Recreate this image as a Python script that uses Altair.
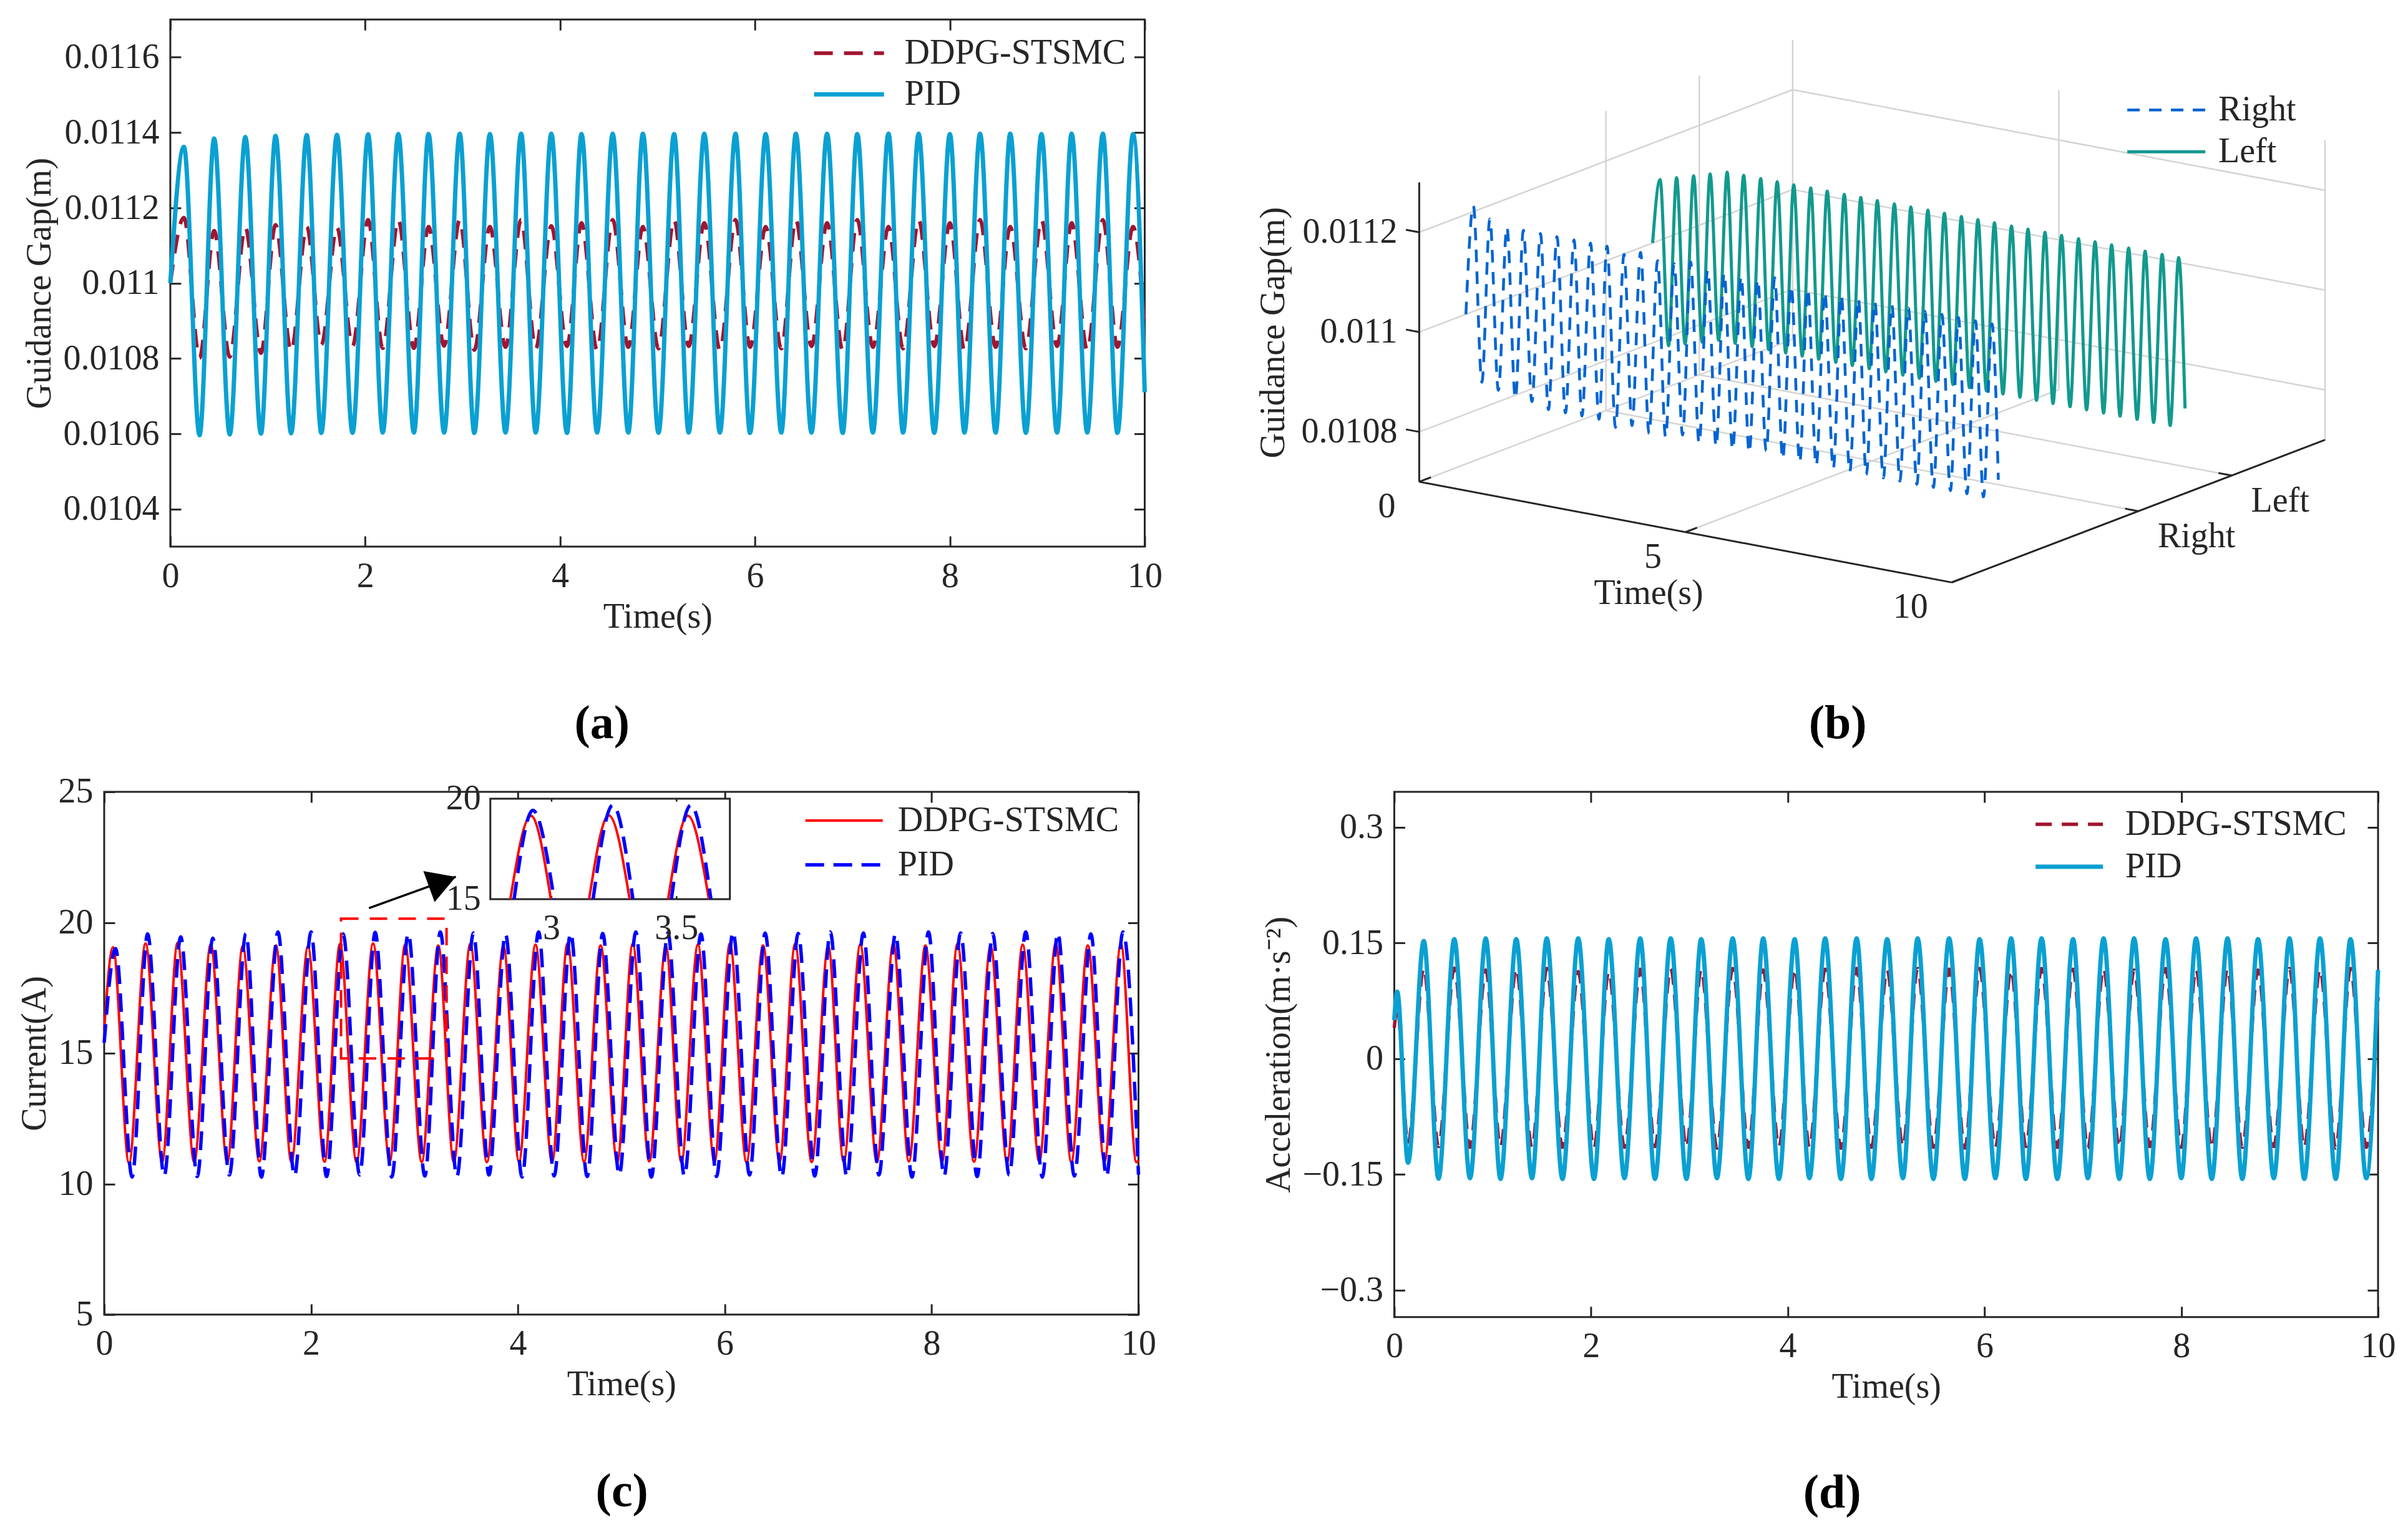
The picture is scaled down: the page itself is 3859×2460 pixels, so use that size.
import altair as alt
import pandas as pd

FONT = "Liberation Serif"
INK = "#262626"
FS = 56
TICK = 17
RED_DARK = "#A2142F"
CYAN = "#0AA0D2"
RED = "#FF0000"
BLUE = "#0000FF"
B_BLUE = "#0064D2"
TEAL = "#12998E"
GRID = "#D4D4D4"

# ======================= data =======================
captions = ["(a)", "(b)", "(c)", "(d)"]
ctrl_names = ["DDPG-STSMC", "PID"]
side_names = ["Right", "Left"]

# ---- (a) guidance gap, extrema times (s) ----
gap_peak_t = [0.14, 0.45, 0.77, 1.08, 1.40, 1.71, 2.03, 2.34, 2.65, 2.97, 3.28, 3.60, 3.91, 4.22, 4.54, 4.85,
              5.17, 5.48, 5.80, 6.11, 6.42, 6.74, 7.05, 7.37, 7.68, 8.00, 8.31, 8.62, 8.94, 9.25, 9.57, 9.88]
gap_trough_t = [0.30, 0.61, 0.93, 1.24, 1.55, 1.87, 2.18, 2.50, 2.81, 3.12, 3.44, 3.75, 4.07, 4.38, 4.70, 5.01,
                5.32, 5.64, 5.95, 6.27, 6.58, 6.90, 7.21, 7.52, 7.84, 8.15, 8.47, 8.78, 9.10, 9.41, 9.72]
gap_pid_start, gap_pid_end = 0.01100, 0.01071
gap_pid_peak = [0.011362, 0.011384, 0.011388, 0.011391, 0.011393, 0.011394, 0.011395, 0.011396, 0.011396, 0.011397,
                0.011396, 0.011397, 0.011397, 0.011396, 0.011397, 0.011397, 0.011396, 0.011397, 0.011397, 0.011396,
                0.011397, 0.011397, 0.011396, 0.011397, 0.011397, 0.011396, 0.011397, 0.011397, 0.011396, 0.011397,
                0.011397, 0.011396]
gap_pid_trough = [0.010596, 0.010598, 0.010600, 0.010601, 0.010602, 0.010602, 0.010603, 0.010603, 0.010603, 0.010602,
                  0.010603, 0.010603, 0.010602, 0.010603, 0.010603, 0.010602, 0.010603, 0.010603, 0.010602, 0.010603,
                  0.010603, 0.010602, 0.010603, 0.010603, 0.010602, 0.010603, 0.010603, 0.010602, 0.010603, 0.010603,
                  0.010602]
gap_dd_start, gap_dd_end = 0.01100, 0.01088
gap_dd_peak = [0.011174, 0.011139, 0.011148, 0.011155, 0.011150, 0.011148, 0.011168, 0.011168, 0.011150, 0.011168,
               0.011150, 0.011168, 0.011152, 0.011160, 0.011168, 0.011150, 0.011168, 0.011160, 0.011168, 0.011150,
               0.011168, 0.011160, 0.011168, 0.011150, 0.011168, 0.011160, 0.011168, 0.011150, 0.011168, 0.011160,
               0.011168, 0.011150]
gap_dd_trough = [0.010801, 0.010804, 0.010814, 0.010820, 0.010836, 0.010833, 0.010827, 0.010827, 0.010833, 0.010822,
                 0.010830, 0.010826, 0.010832, 0.010822, 0.010830, 0.010826, 0.010832, 0.010822, 0.010830, 0.010826,
                 0.010832, 0.010822, 0.010830, 0.010826, 0.010832, 0.010822, 0.010830, 0.010826, 0.010832, 0.010822,
                 0.010830]
gap_y_ticks = [0.0104, 0.0106, 0.0108, 0.011, 0.0112, 0.0114, 0.0116]

# ---- (b) 3-D guidance gap, right / left ----
b_right_start, b_right_end = 0.01100, 0.01087
b_right_peak = [0.01122, 0.01120, 0.01119, 0.01119, 0.01119, 0.01119, 0.01119, 0.01119, 0.01119, 0.01118,
                0.01119, 0.01118, 0.01118, 0.01119, 0.01118, 0.01118, 0.01118, 0.01118, 0.01119, 0.01118,
                0.01118, 0.01118, 0.01118, 0.01118, 0.01118, 0.01118, 0.01118, 0.01118, 0.01118, 0.01118,
                0.01118, 0.01118]
b_right_trough = [0.01087, 0.01086, 0.01085, 0.01085, 0.01084, 0.01084, 0.01084, 0.01084, 0.01083, 0.01084,
                  0.01083, 0.01083, 0.01084, 0.01083, 0.01083, 0.01083, 0.01083, 0.01084, 0.01083, 0.01083,
                  0.01083, 0.01083, 0.01083, 0.01083, 0.01083, 0.01083, 0.01083, 0.01083, 0.01083, 0.01083,
                  0.01083]
b_left_start, b_left_end = 0.01100, 0.01087
b_left_peak = [0.01113, 0.01114, 0.01115, 0.01116, 0.01117, 0.01117, 0.01117, 0.01117, 0.01117, 0.01117,
               0.01117, 0.01117, 0.01117, 0.01117, 0.01117, 0.01117, 0.01117, 0.01117, 0.01117, 0.01117,
               0.01117, 0.01117, 0.01117, 0.01117, 0.01117, 0.01117, 0.01117, 0.01117, 0.01117, 0.01117,
               0.01117, 0.01117]
b_left_trough = [0.01080, 0.01081, 0.01082, 0.01083, 0.01083, 0.01083, 0.01083, 0.01083, 0.01083, 0.01083,
                 0.01083, 0.01083, 0.01083, 0.01083, 0.01083, 0.01083, 0.01083, 0.01083, 0.01083, 0.01083,
                 0.01083, 0.01083, 0.01083, 0.01083, 0.01083, 0.01083, 0.01083, 0.01083, 0.01083, 0.01083,
                 0.01083]
b_side_pos = [-0.5, 1.5]            # Right, Left curve positions on side axis
b_t_ticks, b_t_labels = [0, 5, 10], ["0", "5", "10"]
b_s_ticks = [1, 2]
b_z_ticks, b_z_labels = [0.0108, 0.011, 0.0112], ["0.0108", "0.011", "0.0112"]
b_t_lim, b_s_lim, b_z_lim = [0, 10], [-1, 3], [0.0107, 0.0113]

# ---- (c) current ----
cur_dd_peak_t = [0.085, 0.40, 0.71, 1.03, 1.34, 1.66, 1.97, 2.28, 2.60, 2.91, 3.23, 3.54, 3.86, 4.17, 4.48, 4.80,
                 5.11, 5.43, 5.74, 6.05, 6.37, 6.68, 7.00, 7.31, 7.63, 7.94, 8.25, 8.57, 8.88, 9.20, 9.51, 9.83]
cur_dd_trough_t = [0.24, 0.56, 0.87, 1.19, 1.50, 1.81, 2.13, 2.44, 2.76, 3.07, 3.38, 3.70, 4.01, 4.33, 4.64, 4.96,
                   5.27, 5.58, 5.90, 6.21, 6.53, 6.84, 7.15, 7.47, 7.78, 8.10, 8.41, 8.73, 9.04, 9.35, 9.67, 9.98]
cur_dd_start, cur_dd_end = 15.9, 10.9
cur_dd_peak = [19.05, 19.20, 19.22, 19.15, 19.10, 19.12, 19.08, 19.18, 19.20, 19.15, 19.12, 19.18, 19.10, 19.15,
               19.20, 19.12, 19.18, 19.10, 19.15, 19.20, 19.12, 19.18, 19.10, 19.15, 19.20, 19.12, 19.18, 19.10,
               19.15, 19.20, 19.12, 19.18]
cur_dd_trough = [10.80, 10.84, 10.85, 10.83, 10.86, 10.84, 10.85, 10.83, 10.86, 10.84, 10.85, 10.83, 10.86, 10.84,
                 10.85, 10.83, 10.86, 10.84, 10.85, 10.83, 10.86, 10.84, 10.85, 10.83, 10.86, 10.84, 10.85, 10.83,
                 10.86, 10.84, 10.85, 10.83]
cur_pid_peak_t = [0.11, 0.42, 0.74, 1.05, 1.37, 1.68, 2.00, 2.31, 2.62, 2.94, 3.25, 3.57, 3.88, 4.20, 4.51, 4.82,
                  5.14, 5.45, 5.77, 6.08, 6.39, 6.71, 7.02, 7.34, 7.65, 7.97, 8.28, 8.59, 8.91, 9.22, 9.54, 9.85]
cur_pid_trough_t = [0.27, 0.58, 0.90, 1.21, 1.52, 1.84, 2.15, 2.47, 2.78, 3.10, 3.41, 3.72, 4.04, 4.35, 4.67, 4.98,
                    5.29, 5.61, 5.92, 6.24, 6.55, 6.87, 7.18, 7.49, 7.81, 8.12, 8.44, 8.75, 9.07, 9.38, 9.69]
cur_pid_start, cur_pid_end = 15.4, 10.35
cur_pid_peak = [19.00, 19.56, 19.45, 19.40, 19.58, 19.64, 19.64, 19.56, 19.62, 19.58, 19.64, 19.60, 19.56, 19.64,
                19.60, 19.58, 19.64, 19.60, 19.56, 19.64, 19.60, 19.58, 19.64, 19.60, 19.56, 19.64, 19.60, 19.58,
                19.64, 19.60, 19.56, 19.64]
cur_pid_trough = [10.26, 10.30, 10.28, 10.34, 10.26, 10.30, 10.28, 10.34, 10.26, 10.30, 10.28, 10.34, 10.26, 10.30,
                  10.28, 10.34, 10.26, 10.30, 10.28, 10.34, 10.26, 10.30, 10.28, 10.34, 10.26, 10.30, 10.28, 10.34,
                  10.26, 10.30, 10.28]
cur_y_ticks = [5, 10, 15, 20, 25]
# zoom box, arrow and inset
zoom_box_t, zoom_box_v = [2.29, 3.31], [14.8, 20.15]
arrow_t, arrow_v = [2.56, 3.40], [20.55, 21.75]
arrow_head_t, arrow_head_v = [3.27], [21.56]
inset_t_lim, inset_v_lim = [2.755, 3.713], [15, 20]
inset_dd_t = [2.835, 2.917, 2.997, 3.15, 3.229, 3.312, 3.466, 3.545, 3.629]
inset_dd_v = [15, 19.15, 15, 15, 19.17, 15, 15, 19.15, 15]
inset_pid_t = [2.85, 2.925, 3.01, 3.166, 3.245, 3.325, 3.479, 3.557, 3.637]
inset_pid_v = [15, 19.42, 15, 15, 19.68, 15, 15, 19.68, 15]
inset_arch = [0, 0, 0, 1, 1, 1, 2, 2, 2]
inset_x_ticks, inset_x_labels = [3, 3.5], ["3", "3.5"]
inset_y_ticks, inset_y_labels = [15, 20], ["15", "20"]

# ---- (d) acceleration ----
acc_peak_t = gap_trough_t
acc_trough_t = gap_peak_t
acc_pid_start, acc_pid_end = 0.05, 0.115
acc_pid_first = (0.03, 0.087)
acc_pid_peak = [0.1526, 0.155, 0.156, 0.155, 0.156, 0.156, 0.155, 0.156, 0.156, 0.155, 0.156, 0.156, 0.155, 0.156,
                0.156, 0.155, 0.156, 0.156, 0.155, 0.156, 0.156, 0.155, 0.156, 0.156, 0.155, 0.156, 0.156, 0.155,
                0.156, 0.156, 0.155]
acc_pid_trough = [-0.135, -0.1555, -0.155, -0.156, -0.155, -0.156, -0.156, -0.155, -0.156, -0.156, -0.155, -0.156,
                  -0.156, -0.155, -0.156, -0.156, -0.155, -0.156, -0.156, -0.155, -0.156, -0.156, -0.155, -0.156,
                  -0.156, -0.155, -0.156, -0.156, -0.155, -0.156, -0.156, -0.155]
acc_dd_start, acc_dd_end = 0.04, 0.08
acc_dd_first = (0.03, 0.066)
acc_dd_peak = [0.1175, 0.1175, 0.115, 0.117, 0.117, 0.113, 0.113, 0.116, 0.117, 0.116, 0.117, 0.115, 0.117, 0.116,
               0.117, 0.115, 0.117, 0.116, 0.117, 0.115, 0.117, 0.116, 0.117, 0.115, 0.117, 0.116, 0.117, 0.115,
               0.117, 0.116, 0.117]
acc_dd_trough = [-0.110, -0.114, -0.115, -0.114, -0.115, -0.115, -0.116, -0.115, -0.114, -0.115, -0.116, -0.115,
                 -0.114, -0.115, -0.116, -0.115, -0.114, -0.115, -0.116, -0.115, -0.114, -0.115, -0.116, -0.115,
                 -0.114, -0.115, -0.116, -0.115, -0.114, -0.115, -0.116, -0.115]
acc_y_ticks = [-0.3, -0.15, 0, 0.15, 0.3]
time_ticks = [0, 2, 4, 6, 8, 10]


# ======================= helpers =======================
def wave_df(t0, v0, pk_t, pk_v, tr_t, tr_v, t1, v1, extra=None):
    ts = [t0] + list(pk_t) + list(tr_t) + [t1]
    vs = [v0] + list(pk_v) + list(tr_v) + [v1]
    if extra is not None:
        ts.append(extra[0])
        vs.append(extra[1])
    return pd.DataFrame({"t": ts, "v": vs}).sort_values("t").reset_index(drop=True)


def ax_common():
    return dict(tickSize=TICK, offset=-TICK, domain=False, grid=False, tickColor=INK, tickWidth=3,
                labelFont=FONT, labelFontSize=FS, labelColor=INK, titleFont=FONT, titleFontSize=FS,
                titleFontWeight="normal", titleColor=INK, labelFlush=False, labelOverlap=False)


def axes(yvals, ytitle, yfmt):
    xb = alt.Axis(orient="bottom", values=time_ticks, title="Time(s)", format="d", labelPadding=20,
                  titlePadding=10, **ax_common())
    yl = alt.Axis(orient="left", values=yvals, title=ytitle, format=yfmt, labelPadding=18,
                  titlePadding=8, **ax_common())
    xt = alt.Axis(orient="top", values=time_ticks, labels=False, title=None, **ax_common())
    yr = alt.Axis(orient="right", values=yvals, labels=False, title=None, **ax_common())
    return xb, yl, xt, yr


def line(df, color, width, dash, xs, ys, xa=None, ya=None, opacity=1.0):
    kw = dict(color=color, strokeWidth=width, interpolate="monotone", opacity=opacity)
    if dash:
        kw["strokeDash"] = dash
    return alt.Chart(df).mark_line(**kw).encode(
        x=alt.X("t:Q", scale=xs, axis=xa), y=alt.Y("v:Q", scale=ys, axis=ya))


def legend_layers(names, colors, widths, dashes, x1, x2, xt, ys):
    out = []
    for name, c, w, d, y in zip(names, colors, widths, dashes, ys):
        one = pd.DataFrame({"label": [name]})
        kw = dict(color=c, strokeWidth=w)
        if d:
            kw["strokeDash"] = d
        out.append(alt.Chart(one).mark_rule(**kw).encode(x=alt.value(x1), x2=alt.value(x2), y=alt.value(y)))
        out.append(alt.Chart(one).mark_text(align="left", baseline="middle", font=FONT, fontSize=FS,
                                             color=INK).encode(x=alt.value(xt), y=alt.value(y), text="label:N"))
    return out


def caption_layer(text, x, y):
    return alt.Chart(pd.DataFrame({"c": [text]})).mark_text(
        font=FONT, fontSize=76, fontWeight="bold", color="black", align="center", baseline="middle"
    ).encode(x=alt.value(x), y=alt.value(y), text="c:N")


def spacer(w):
    return alt.Chart(pd.DataFrame({"k": [0]})).mark_point(opacity=0).encode(
        x=alt.value(0), y=alt.value(0)).properties(width=w, height=10, view=alt.ViewBackground(strokeOpacity=0))


def tscale():
    return alt.Scale(domain=[0, 10], nice=False, zero=False)


# ======================= panel (a) =======================
A_W, A_H = 1562, 845
xs_a, ys_a = tscale(), alt.Scale(domain=[0.0103, 0.0117], nice=False, zero=False)
a_dd = wave_df(0, gap_dd_start, gap_peak_t, gap_dd_peak, gap_trough_t, gap_dd_trough, 10, gap_dd_end)
a_pid = wave_df(0, gap_pid_start, gap_peak_t, gap_pid_peak, gap_trough_t, gap_pid_trough, 10, gap_pid_end)
xb, yl, xt, yr = axes(gap_y_ticks, "Guidance Gap(m)", ".4~f")
chart_a = alt.layer(
    line(a_dd, RED_DARK, 6, [30, 18], xs_a, ys_a, xb, yl),
    line(a_pid, CYAN, 7, None, xs_a, ys_a),
    line(a_pid, CYAN, 7, None, xs_a, ys_a, xt, yr, opacity=0),
    *legend_layers(ctrl_names, [RED_DARK, CYAN], [6, 7], [[30, 18], None], 1032, 1144, 1177, [54, 120]),
    caption_layer(captions[0], 692, 1129),
).resolve_axis(x="independent", y="independent").properties(width=A_W, height=A_H)

# ======================= panel (b) 3-D =======================
B_W, B_H = 1830, 1000
P_OX, P_OY = 270.0, 741.0
P_TX, P_TY = 85.35, 16.13
P_SX, P_SY = 149.65, -57.125
P_Z = 800000.0
S0, Z0 = b_s_lim[0], b_z_lim[0]
bxs = alt.Scale(domain=[0, B_W], nice=False, zero=False)
bys = alt.Scale(domain=[0, B_H], reverse=True, nice=False, zero=False)


def proj(sfx=""):
    t, s, z = f"datum.t{sfx}", f"datum.s{sfx}", f"datum.z{sfx}"
    X = f"{P_OX} + {P_TX}*{t} + {P_SX}*({s} - ({S0}))"
    Y = f"{P_OY} + {P_TY}*{t} + ({P_SY})*({s} - ({S0})) - {P_Z}*({z} - {Z0})"
    return X, Y


def seg_layer(segs, color, width):
    df = pd.DataFrame(segs, columns=["t1", "s1", "z1", "t2", "s2", "z2"])
    X1, Y1 = proj("1")
    X2, Y2 = proj("2")
    return alt.Chart(df).transform_calculate(X1=X1, Y1=Y1, X2=X2, Y2=Y2).mark_rule(
        color=color, strokeWidth=width).encode(
        x=alt.X("X1:Q", scale=bxs, axis=None), y=alt.Y("Y1:Q", scale=bys, axis=None), x2="X2:Q", y2="Y2:Q")


def pt_text(rows, dx, dy, align, angle=0):
    df = pd.DataFrame(rows, columns=["t", "s", "z", "label"])
    X, Y = proj()
    return alt.Chart(df).transform_calculate(X=X, Y=Y).mark_text(
        dx=dx, dy=dy, align=align, baseline="middle", font=FONT, fontSize=FS, color=INK, angle=angle).encode(
        x=alt.X("X:Q", scale=bxs, axis=None), y=alt.Y("Y:Q", scale=bys, axis=None), text="label:N")


def curve3d(t0, v0, pk_t, pk_v, tr_t, tr_v, t1, v1, side, color, width, dash):
    df = wave_df(t0, v0, pk_t, pk_v, tr_t, tr_v, t1, v1).rename(columns={"v": "z"})
    df["s"] = side
    X, Y = proj()
    kw = dict(color=color, strokeWidth=width, interpolate="monotone")
    if dash:
        kw["strokeDash"] = dash
    return alt.Chart(df).transform_calculate(X=X, Y=Y).mark_line(**kw).encode(
        x=alt.X("X:Q", scale=bxs, axis=None), y=alt.Y("Y:Q", scale=bys, axis=None), order="t:Q")


t_a, t_b = b_t_lim
s_a, s_b = b_s_lim
z_a, z_b = b_z_lim
grid_segs = []
for s in b_s_ticks:
    grid_segs.append((t_a, s, z_a, t_a, s, z_b))
    grid_segs.append((t_a, s, z_a, t_b, s, z_a))
for t in b_t_ticks:
    grid_segs.append((t, s_b, z_a, t, s_b, z_b))
    grid_segs.append((t, s_a, z_a, t, s_b, z_a))
for z in b_z_ticks:
    grid_segs.append((t_a, s_a, z, t_a, s_b, z))
    grid_segs.append((t_a, s_b, z, t_b, s_b, z))
axis_segs = [(t_a, s_a, z_a, t_a, s_a, z_b), (t_a, s_a, z_a, t_b, s_a, z_a), (t_b, s_a, z_a, t_b, s_b, z_a)]
tick_segs = ([(t, s_a, z_a, t, s_a + 0.125, z_a) for t in b_t_ticks] +
             [(t_b, s, z_a, t_b - 0.25, s, z_a) for s in b_s_ticks] +
             [(t_a, s_a, z, t_a - 0.25, s_a, z) for z in b_z_ticks])

chart_b = alt.layer(
    seg_layer(grid_segs, GRID, 2.5),
    seg_layer(axis_segs, INK, 3),
    seg_layer(tick_segs, INK, 3),
    curve3d(0, b_left_start, gap_peak_t, b_left_peak, gap_trough_t, b_left_trough, 10, b_left_end,
            b_side_pos[1], TEAL, 5, None),
    curve3d(0, b_right_start, gap_peak_t, b_right_peak, gap_trough_t, b_right_trough, 10, b_right_end,
            b_side_pos[0], B_BLUE, 4.5, [20, 15]),
    pt_text([(t, s_a, z_a, lab) for t, lab in zip(b_t_ticks, b_t_labels)], -38, 40, "right"),
    pt_text([(5, s_a, z_a, "Time(s)")], -59, 98, "center"),
    pt_text([(t_b, s, z_a, lab) for s, lab in zip(b_s_ticks, side_names)], 31, 41, "left"),
    pt_text([(t_a, s_a, z, lab) for z, lab in zip(b_z_ticks, b_z_labels)], -35, 0, "right"),
    alt.Chart(pd.DataFrame({"label": ["Guidance Gap(m)"]})).mark_text(
        font=FONT, fontSize=FS, color=INK, angle=270, align="center", baseline="middle").encode(
        x=alt.value(37), y=alt.value(502), text="label:N"),
    *legend_layers(side_names, [B_BLUE, TEAL], [4.5, 5], [[20, 15], None], 1405, 1530, 1551, [145, 212]),
    caption_layer(captions[1], 941, 1129),
).properties(width=B_W, height=B_H, view=alt.ViewBackground(strokeOpacity=0))

# ======================= panel (c) =======================
C_W, C_H = 1658, 838
xs_c, ys_c = tscale(), alt.Scale(domain=[5, 25], nice=False, zero=False)
c_dd = wave_df(0, cur_dd_start, cur_dd_peak_t, cur_dd_peak, cur_dd_trough_t, cur_dd_trough, 10, cur_dd_end)
c_pid = wave_df(0, cur_pid_start, cur_pid_peak_t, cur_pid_peak, cur_pid_trough_t, cur_pid_trough, 10, cur_pid_end)
xb, yl, xt, yr = axes(cur_y_ticks, "Current(A)", "d")
box_df = pd.DataFrame({"t": [zoom_box_t[0]], "t2": [zoom_box_t[1]], "v": [zoom_box_v[0]], "v2": [zoom_box_v[1]]})
arrow_df = pd.DataFrame({"t": [arrow_t[0]], "t2": [arrow_t[1]], "v": [arrow_v[0]], "v2": [arrow_v[1]]})
head_df = pd.DataFrame({"t": arrow_head_t, "v": arrow_head_v})
main_c = alt.layer(
    line(c_dd, RED, 4, None, xs_c, ys_c, xb, yl),
    line(c_pid, BLUE, 5.5, [30, 15], xs_c, ys_c),
    line(c_pid, BLUE, 5, None, xs_c, ys_c, xt, yr, opacity=0),
    alt.Chart(box_df).mark_rect(fillOpacity=0, stroke=RED, strokeWidth=4, strokeDash=[28, 18]).encode(
        x=alt.X("t:Q", scale=xs_c, axis=None), x2="t2:Q", y=alt.Y("v:Q", scale=ys_c, axis=None), y2="v2:Q"),
    alt.Chart(arrow_df).mark_rule(color="black", strokeWidth=3.5).encode(
        x=alt.X("t:Q", scale=xs_c, axis=None), x2="t2:Q", y=alt.Y("v:Q", scale=ys_c, axis=None), y2="v2:Q"),
    alt.Chart(head_df).mark_point(shape="triangle-right", filled=True, size=2800, angle=340, color="black",
                                  opacity=1).encode(
        x=alt.X("t:Q", scale=xs_c, axis=None), y=alt.Y("v:Q", scale=ys_c, axis=None)),
    *legend_layers(ctrl_names, [RED, BLUE], [4, 5.5], [None, [30, 15]], 1124, 1248, 1272, [46, 117]),
    caption_layer(captions[2], 830, 1122),
).resolve_axis(x="independent", y="independent")

ixs = alt.Scale(domain=inset_t_lim, range=[619, 1003], nice=False, zero=False)
iys = alt.Scale(domain=inset_v_lim, range=[172, 11], nice=False, zero=False)
ibox = pd.DataFrame({"t": [inset_t_lim[0]], "t2": [inset_t_lim[1]], "v": [inset_v_lim[0]], "v2": [inset_v_lim[1]]})
idd = pd.DataFrame({"t": inset_dd_t, "v": inset_dd_v, "arch": inset_arch})
ipid = pd.DataFrame({"t": inset_pid_t, "v": inset_pid_v, "arch": inset_arch})
iylab = pd.DataFrame({"t": [inset_t_lim[0]] * 2, "v": inset_y_ticks, "label": inset_y_labels})
ixlab = pd.DataFrame({"t": inset_x_ticks, "v": [inset_v_lim[0]] * 2, "label": inset_x_labels})
itick = pd.DataFrame({"t": inset_x_ticks * 2,
                      "v": [inset_v_lim[1]] * 2 + [inset_v_lim[0]] * 2,
                      "v2": [inset_v_lim[1] - 0.15] * 2 + [inset_v_lim[0] + 0.15] * 2})
inset_c = alt.layer(
    alt.Chart(ibox).mark_rect(fill="white", stroke=INK, strokeWidth=3).encode(
        x=alt.X("t:Q", scale=ixs, axis=None), x2="t2:Q", y=alt.Y("v:Q", scale=iys, axis=None), y2="v2:Q"),
    alt.Chart(itick).mark_rule(color=INK, strokeWidth=2.5).encode(
        x=alt.X("t:Q", scale=ixs, axis=None), y=alt.Y("v:Q", scale=iys, axis=None), y2="v2:Q"),
    alt.Chart(idd).mark_line(color=RED, strokeWidth=4, interpolate="monotone").encode(
        x=alt.X("t:Q", scale=ixs, axis=None), y=alt.Y("v:Q", scale=iys, axis=None), detail="arch:N"),
    alt.Chart(ipid).mark_line(color=BLUE, strokeWidth=5.5, strokeDash=[28, 14], interpolate="monotone").encode(
        x=alt.X("t:Q", scale=ixs, axis=None), y=alt.Y("v:Q", scale=iys, axis=None), detail="arch:N"),
    alt.Chart(iylab).mark_text(align="right", baseline="middle", dx=-15, font=FONT, fontSize=FS, color=INK).encode(
        x=alt.X("t:Q", scale=ixs, axis=None), y=alt.Y("v:Q", scale=iys, axis=None), text="label:N"),
    alt.Chart(ixlab).mark_text(align="center", baseline="middle", dy=47, font=FONT, fontSize=FS, color=INK).encode(
        x=alt.X("t:Q", scale=ixs, axis=None), y=alt.Y("v:Q", scale=iys, axis=None), text="label:N"),
)
chart_c = alt.layer(main_c, inset_c).resolve_scale(x="independent", y="independent").properties(
    width=C_W, height=C_H)

# ======================= panel (d) =======================
D_W, D_H = 1577, 842
xs_d, ys_d = tscale(), alt.Scale(domain=[-0.335, 0.346], nice=False, zero=False)
d_dd = wave_df(0, acc_dd_start, acc_peak_t, acc_dd_peak, acc_trough_t, acc_dd_trough, 10, acc_dd_end, acc_dd_first)
d_pid = wave_df(0, acc_pid_start, acc_peak_t, acc_pid_peak, acc_trough_t, acc_pid_trough, 10, acc_pid_end,
                acc_pid_first)
xb, yl, xt, yr = axes(acc_y_ticks, "Acceleration(m·s⁻²)", ".2~f")
chart_d = alt.layer(
    line(d_dd, RED_DARK, 5.5, [26, 16], xs_d, ys_d, xb, yl),
    line(d_pid, CYAN, 7, None, xs_d, ys_d),
    line(d_pid, CYAN, 7, None, xs_d, ys_d, xt, yr, opacity=0),
    *legend_layers(ctrl_names, [RED_DARK, CYAN], [5.5, 7], [[26, 16], None], 1028, 1136, 1172, [52, 120]),
    caption_layer(captions[3], 702, 1124),
).resolve_axis(x="independent", y="independent").properties(width=D_W, height=D_H)

# ======================= layout =======================
row1 = alt.hconcat(spacer(106), chart_a, spacer(170), chart_b, spacing=0, bounds="flush")
row2 = alt.hconcat(chart_c, spacer(410), chart_d, spacing=0, bounds="flush")
chart = alt.vconcat(row1, row2, spacing=39).properties(
    padding={"left": 18, "top": 20, "right": 10, "bottom": 10}
).configure(background="white").configure_view(stroke=INK, strokeWidth=3)

chart.save("out.html", embed_options={"renderer": "svg", "actions": False})
